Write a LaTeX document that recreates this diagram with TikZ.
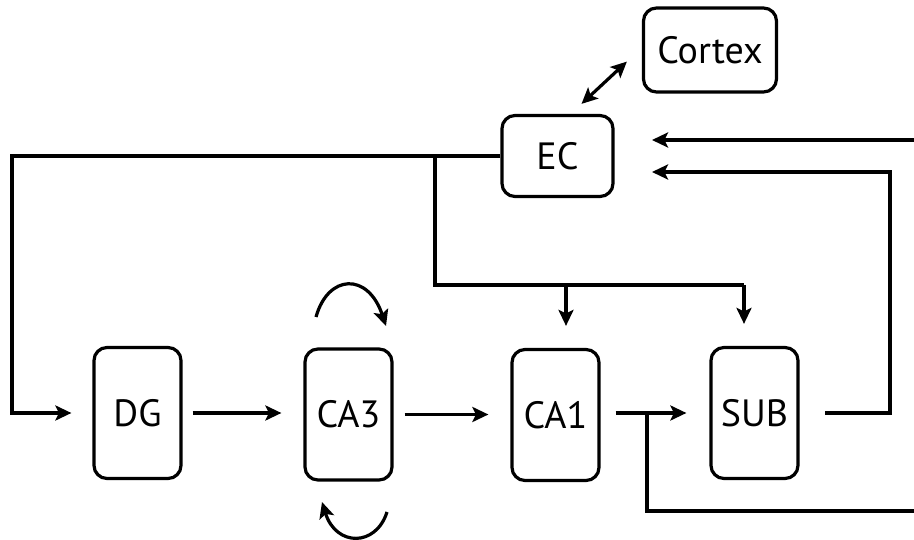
\documentclass[tikz,border=0pt]{standalone}
\usepackage{fontspec}
\setmainfont{PT Sans}
\usetikzlibrary{arrows.meta,calc}
\begin{document}
\begin{tikzpicture}[x=1pt,y=-1pt,
  region/.style={draw, rounded corners=13pt, line width=3.2pt, inner sep=0pt,
    font=\fontsize{38}{42}\selectfont},
  tall/.style={region, minimum width=87pt, minimum height=131pt},
  link/.style={line width=3.2pt},
  flow/.style={link, -{Stealth[length=16pt,width=15pt,inset=3.5pt]}},
  both/.style={link, {Stealth[length=16pt,width=15pt,inset=3.5pt]}-{Stealth[length=16pt,width=15pt,inset=3.5pt]}}]
\useasboundingbox (0,0) rectangle (914,540);

% regions
\node[region, minimum width=133pt, minimum height=84pt] (cortex) at (710,50) {Cortex};
\node[region, minimum width=111pt, minimum height=81pt] (ec) at (557.5,156) {EC};
\node[tall] (dg)  at (137.5,413) {DG};
\node[tall] (ca3) at (348.5,414.5) {CA3};
\node[tall] (ca1) at (555.5,415) {CA1};
\node[tall] (sub) at (754.5,413) {SUB};

% routing points
\coordinate (loopL)  at (12,156);
\coordinate (loopLb) at (12,413);
\coordinate (split)  at (435,156);
\coordinate (splitb) at (435,285);
\coordinate (toca1)  at (566,285);
\coordinate (tosub)  at (744,285);
\coordinate (inTop)  at (914,140);
\coordinate (tipTop) at (652,140);
\coordinate (tipLow) at (652,172);
\coordinate (retR)   at (890,172);
\coordinate (subOut) at (825,413);
\coordinate (retRb)  at (890,413);
\coordinate (join)   at (647,414);
\coordinate (joinb)  at (647,511);
\coordinate (inBot)  at (914,511);

% EC <-> cortex
\draw[both] ($(ec.north)+(24,-10)$) -- ($(cortex.south west)+(-15,-32)$);

% perforant path to DG
\draw[flow, shorten >=21pt] (ec.west) -- (loopL) -- (loopLb) -- (dg.west);
% direct path to CA1 and SUB
\draw[link] (split) -- (splitb) -- (tosub);
\draw[flow] (toca1) -- ($(ca1.north)+(10.5,-22)$);
\draw[flow] (tosub) -- ($(sub.north)+(-10.5,-22)$);

% trisynaptic chain
\draw[flow, shorten <=10pt, shorten >=22pt] (dg.east) -- (ca3.west |- dg.east);
\draw[flow, shorten <=11pt, shorten >=22pt] (ca3.east) -- (ca1.west |- ca3.east);
\draw[flow, shorten <=15pt, shorten >=23pt] (ca1.east |- sub.west) -- (sub.west);

% CA3 recurrent loops
\draw[flow] (316,317) .. controls (328,274) and (368,272) .. (386,326);
\draw[flow] (387,512) .. controls (376,547) and (336,547) .. (322,502);

% outputs back to EC
\draw[flow] (inTop) -- (tipTop);
\draw[flow] (subOut) -- (retRb) -- (retR) -- (tipLow);
\draw[link] (inBot) -- (joinb) -- (join);
\end{tikzpicture}
\end{document}
